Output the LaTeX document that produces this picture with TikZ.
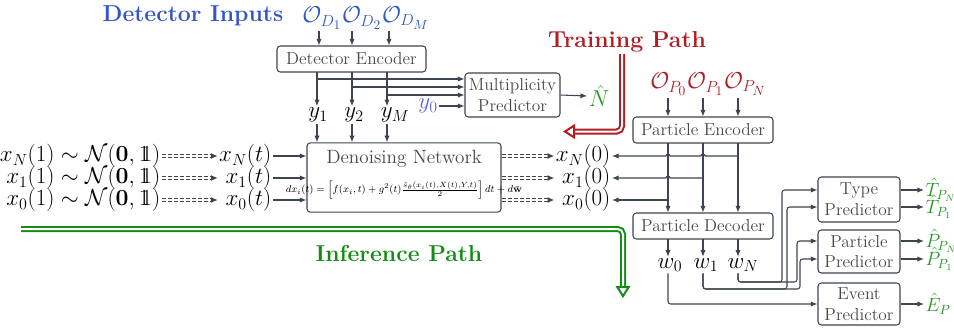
\documentclass[tikz,border=0pt]{standalone}
\usepackage{amsmath,amssymb}
\usetikzlibrary{arrows.meta}

\definecolor{detblue}{RGB}{51,85,204}
\definecolor{ynaught}{RGB}{95,95,240}
\definecolor{trainred}{RGB}{175,30,35}
\definecolor{infgreen}{RGB}{20,140,20}
\definecolor{outgreen}{RGB}{35,150,35}
\definecolor{linegray}{RGB}{62,68,80}
\definecolor{boxtext}{RGB}{72,72,72}
\newcommand{\idone}{\mathrm{1}\mkern-6mu\mathrm{1}}

\begin{document}
\begin{tikzpicture}[x=0.75pt,y=0.75pt,
    every node/.style={inner sep=1pt},
    box/.style={draw=linegray, line width=0.8pt, rounded corners=2.5pt, fill=white,
                text=boxtext, font=\fontsize{13}{15.5}\selectfont, align=center, inner sep=0pt},
    lbl/.style={font=\LARGE},
    obs/.style={font=\LARGE, inner sep=0pt},
    outlbl/.style={font=\Large, text=outgreen, anchor=west},
    title/.style={font=\LARGE\bfseries},
    conn/.style={draw=linegray, line width=0.8pt, -{Latex[length=5pt,width=4pt]}},
    flow/.style={draw=linegray, line width=0.75pt, double, double distance=1.3pt,
                 dash pattern=on 3pt off 1.5pt, -{Latex[length=5pt,width=4.5pt]}},
    bigpath/.style={line width=1.5pt, double=white, double distance=1.5pt,
                    rounded corners=4pt, -{Triangle[open,length=9pt,width=11pt]}}]
    \useasboundingbox (0,0) rectangle (954,-333);

    % detector side
    \node[title, text=detblue] (detin) at (193,-16) {Detector Inputs};
    \node[obs, text=detblue, anchor=west] (od1) at (302,-18) {$\mathcal{O}_{D_1}$};
    \node[obs, text=detblue, anchor=west] (od2) at (od1.east) {$\mathcal{O}_{D_2}$};
    \node[obs, text=detblue, anchor=west] (odm) at (od2.east) {$\mathcal{O}_{D_M}$};
    \node[box, minimum width=111.75pt, minimum height=19.5pt] (detenc) at (351.5,-59) {Detector Encoder};
    \coordinate (ic1) at (319,-31);
    \coordinate (ic2) at (352,-31);
    \coordinate (ic3) at (389,-31);
    \draw[conn] (ic1) -- (ic1 |- detenc.north);
    \draw[conn] (ic2) -- (ic2 |- detenc.north);
    \draw[conn] (ic3) -- (ic3 |- detenc.north);

    \coordinate (dc1) at (317,-72);
    \coordinate (dc2) at (352,-72);
    \coordinate (dc3) at (387,-72);
    \node[lbl] (y1) at (318,-115) {$y_1$};
    \node[lbl] (y2) at (354,-115) {$y_2$};
    \node[lbl] (ym) at (395,-115) {$y_M$};
    \draw[conn] (dc1) -- (dc1 |- y1.north);
    \draw[conn] (dc2) -- (dc2 |- y2.north);
    \draw[conn] (dc3) -- (dc3 |- ym.north);

    \node[box, minimum width=71.25pt, minimum height=33pt] (mult) at (512.5,-95) {Multiplicity\\Predictor};
    \coordinate (b1) at (317,-79);
    \coordinate (b2) at (352,-87);
    \coordinate (b3) at (387,-95);
    \draw[conn] (b1) -- (b1 -| mult.west);
    \draw[conn] (b2) -- (b2 -| mult.west);
    \draw[conn] (b3) -- (b3 -| mult.west);
    \node[lbl, text=ynaught] (y0) at (428,-106) {$y_0$};
    \draw[conn] (y0.east) -- (y0.east -| mult.west);
    \node[lbl, text=outgreen] (nhat) at (599,-96) {$\hat{N}$};
    \draw[conn] (mult.east) -- (nhat.west);

    % denoising network
    \node[box, minimum width=145.5pt, minimum height=52pt] (den) at (404,-177.5) {};
    \node[text=boxtext, font=\Large] (dentitle) at (404,-159) {Denoising Network};
    \node[font=\footnotesize, scale=0.94] (deneq) at (404,-190)
        {$dx_i(t) = \left[ f(x_i,t) + g^2(t)\frac{\hat{s}_\theta(x_i(t),X(t),Y,t)}{2} \right] dt + d\bar{\mathbf{w}}$};
    \draw[conn] (y1.south -| dc1) -- (dc1 |- den.north);
    \draw[conn] (y2.south -| dc2) -- (dc2 |- den.north);
    \draw[conn] (ym.south -| dc3) -- (dc3 |- den.north);

    \node[lbl, anchor=east] (xn1) at (162,-156) {$x_N(1) \sim \mathcal{N}(\mathbf{0},\idone)$};
    \node[lbl, anchor=east] (x11) at (162,-178) {$x_1(1) \sim \mathcal{N}(\mathbf{0},\idone)$};
    \node[lbl, anchor=east] (x01) at (162,-200) {$x_0(1) \sim \mathcal{N}(\mathbf{0},\idone)$};
    \node[lbl, anchor=east] (xnt) at (273,-156) {$x_N(t)$};
    \node[lbl, anchor=east] (x1t) at (273,-178) {$x_1(t)$};
    \node[lbl, anchor=east] (x0t) at (273,-200) {$x_0(t)$};
    \draw[flow] (xn1.east) -- (xn1.east -| xnt.west);
    \draw[flow] (x11.east) -- (x11.east -| xnt.west);
    \draw[flow] (x01.east) -- (x01.east -| xnt.west);
    \draw[conn] (xnt.east) -- (xnt.east -| den.west);
    \draw[conn] (x1t.east) -- (x1t.east -| den.west);
    \draw[conn] (x0t.east) -- (x0t.east -| den.west);

    \node[lbl, anchor=east] (xn0) at (612,-156) {$x_N(0)$};
    \node[lbl, anchor=east] (x10) at (612,-178) {$x_1(0)$};
    \node[lbl, anchor=east] (x00) at (612,-200) {$x_0(0)$};
    \draw[flow] (den.east |- xn0.west) -- (xn0.west);
    \draw[flow] (den.east |- x10.west) -- (x10.west -| xn0.west);
    \draw[flow] (den.east |- x00.west) -- (x00.west -| xn0.west);

    % particle side
    \node[obs, text=trainred, anchor=west] (op0) at (650,-84) {$\mathcal{O}_{P_0}$};
    \node[obs, text=trainred, anchor=west] (op1) at (op0.east) {$\mathcal{O}_{P_1}$};
    \node[obs, text=trainred, anchor=west] (opn) at (op1.east) {$\mathcal{O}_{P_N}$};
    \node[box, minimum width=105pt, minimum height=19.5pt] (penc) at (703,-130) {Particle Encoder};
    \node[box, minimum width=105pt, minimum height=19.5pt] (pdec) at (703,-226) {Particle Decoder};
    \coordinate (pc1) at (668,-143);
    \coordinate (pc2) at (703,-143);
    \coordinate (pc3) at (738,-143);
    \draw[conn] (pc1 |- 0,-98) -- (pc1 |- penc.north);
    \draw[conn] (pc2 |- 0,-98) -- (pc2 |- penc.north);
    \draw[conn] (pc3 |- 0,-98) -- (pc3 |- penc.north);
    \draw[conn] (pc1) -- (pc1 |- pdec.north);
    \draw[conn] (pc2) -- (pc2 |- pdec.north);
    \draw[conn] (pc3) -- (pc3 |- pdec.north);
    \draw[conn] (pc3 |- xn0.east) -- ++(-33,0) arc[start angle=0,end angle=180,radius=2]
        -- ++(-31,0) arc[start angle=0,end angle=180,radius=2] -- (xn0.east);
    \draw[conn] (pc2 |- x10.east) -- ++(-33,0) arc[start angle=0,end angle=180,radius=2]
        -- (x10.east -| xn0.east);
    \draw[conn] (pc1 |- x00.east) -- (x00.east -| xn0.east);

    \coordinate (qc1) at (668,-239);
    \coordinate (qc2) at (703,-239);
    \coordinate (qc3) at (738,-239);
    \node[lbl] (w0) at (670,-265) {$w_0$};
    \node[lbl] (w1) at (706,-265) {$w_1$};
    \node[lbl] (wn) at (743,-265) {$w_N$};
    \draw[conn] (qc1) -- (qc1 |- w0.north);
    \draw[conn] (qc2) -- (qc2 |- w1.north);
    \draw[conn] (qc3) -- (qc3 |- wn.north);

    % predictors
    \node[box, minimum width=61.5pt, minimum height=33.75pt] (type) at (859,-199.5) {Type\\Predictor};
    \node[box, minimum width=61.5pt, minimum height=32.25pt] (partp) at (859,-251.5) {Particle\\Predictor};
    \node[box, minimum width=61.5pt, minimum height=31.5pt] (event) at (859,-304) {Event\\Predictor};
    \coordinate (htn) at (0,-190);
    \coordinate (ht1) at (0,-207);
    \coordinate (hpn) at (0,-241);
    \coordinate (hp1) at (0,-259);
    \coordinate (kn) at (782,-282);
    \coordinate (knp) at (797,-282);
    \coordinate (k1) at (787,-289);
    \coordinate (k1p) at (800,-289);
    \draw[conn, rounded corners=2pt] (wn.south -| qc3) |- (kn) |- (type.west |- htn);
    \draw[conn, rounded corners=2pt] (wn.south -| qc3) |- (knp) |- (partp.west |- hpn);
    \draw[conn, rounded corners=2pt] (w1.south -| qc2) |- (k1) |- (type.west |- ht1);
    \draw[conn, rounded corners=2pt] (w1.south -| qc2) |- (k1p) |- (partp.west |- hp1);
    \draw[conn, rounded corners=2pt] (w0.south -| qc1) |- (event.west);

    \node[outlbl] (tn) at (924,-190) {$\hat{T}_{P_N}$};
    \node[outlbl] (t1) at (924,-207) {$\hat{T}_{P_1}$};
    \node[outlbl] (pn) at (924,-241) {$\hat{P}_{P_N}$};
    \node[outlbl] (p1) at (924,-259) {$\hat{P}_{P_1}$};
    \node[outlbl] (ep) at (924,-304) {$\hat{E}_P$};
    \draw[conn] (type.east |- tn.west) -- (tn.west);
    \draw[conn] (type.east |- t1.west) -- (t1.west);
    \draw[conn] (partp.east |- pn.west) -- (pn.west);
    \draw[conn] (partp.east |- p1.west) -- (p1.west);
    \draw[conn] (event.east) -- (ep.west);

    % training and inference paths
    \node[title, text=trainred] (trainlbl) at (627,-42) {Training Path};
    \coordinate (trs) at (622,-54);
    \coordinate (tre) at (563,-131.5);
    \draw[bigpath, trainred] (trs) |- (tre);
    \node[title, text=infgreen] (inflbl) at (399,-253) {Inference Path};
    \coordinate (ins) at (21,-229);
    \coordinate (ine) at (623,-298);
    \draw[bigpath, infgreen] (ins) -| (ine);
\end{tikzpicture}
\end{document}
